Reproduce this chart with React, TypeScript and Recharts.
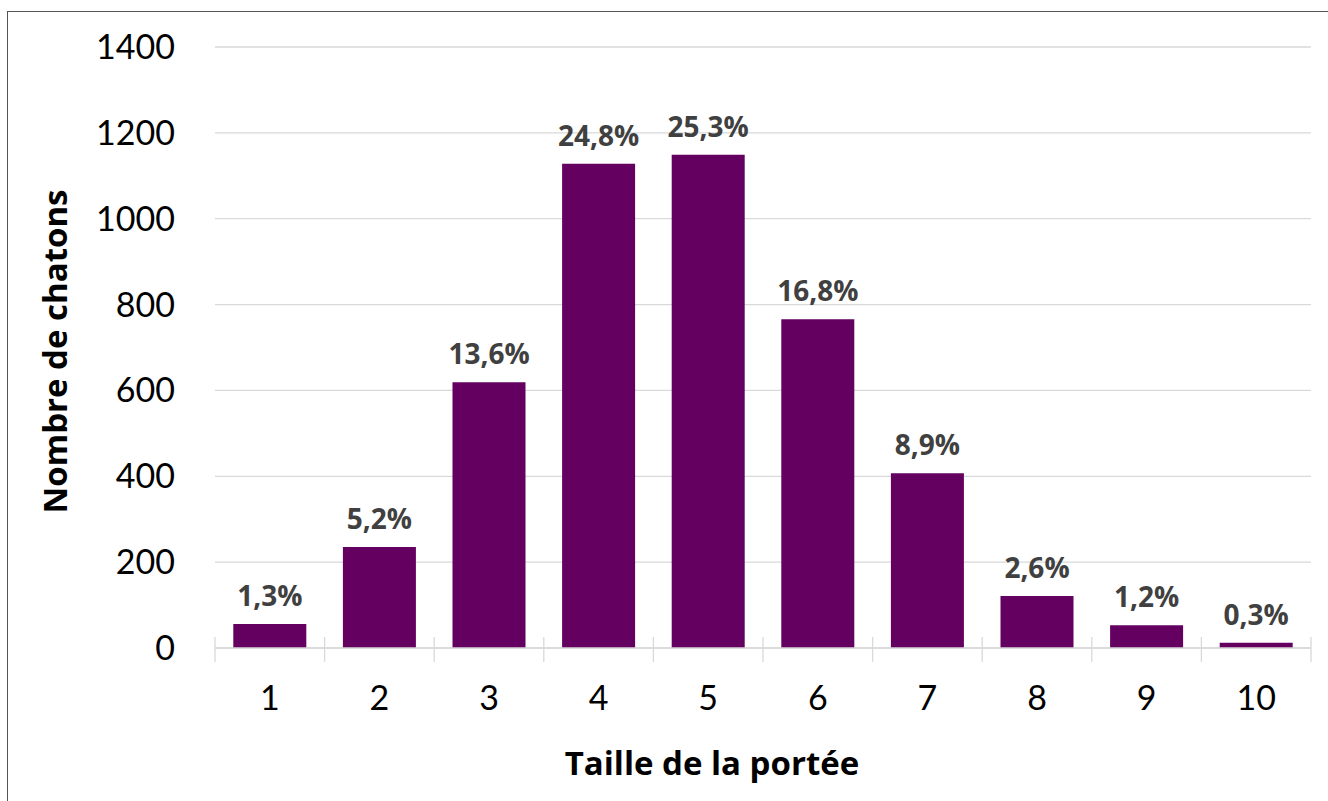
import React from "react";
import { BarChart, Bar, XAxis, YAxis, CartesianGrid, LabelList, Label } from "recharts";

const categories = ["1", "2", "3", "4", "5", "6", "7", "8", "9", "10"];
const kittens = [56, 235, 619, 1128, 1149, 766, 407, 121, 53, 12];
const shares = ["1,3%", "5,2%", "13,6%", "24,8%", "25,3%", "16,8%", "8,9%", "2,6%", "1,2%", "0,3%"];
const yTicks = [0, 200, 400, 600, 800, 1000, 1200, 1400];

const data = categories.map((c, i) => ({ name: c, value: kittens[i], label: shares[i] }));

const FONT = "Lato, 'Open Sans', sans-serif";
const BOLD_FONT = "'Open Sans', Lato, sans-serif";
const TICK_MARGIN = 38;

const XTick = (props: any) => {
  const { x, y, payload, index } = props;
  const axisY = y - TICK_MARGIN;
  const off = payload && payload.offset ? payload.offset : 54.8;
  return (
    <g>
      <line x1={x - off} x2={x - off} y1={axisY - 11} y2={axisY + 14} stroke="#d9d9d9" strokeWidth={1.3} />
      {index === categories.length - 1 && (
        <line x1={x + off} x2={x + off} y1={axisY - 11} y2={axisY + 14} stroke="#d9d9d9" strokeWidth={1.3} />
      )}
      <text x={x} y={y} dy="0.71em" textAnchor="middle" fill="#000" fontSize={34} fontFamily={FONT}>
        {payload.value}
      </text>
    </g>
  );
};

export default function App() {
  return (
    <div style={{ position: "absolute", left: 0, top: 0, width: 1328, height: 801, overflow: "hidden", background: "#fff" }}>
      <div
        style={{
          position: "absolute",
          left: 7,
          top: 11,
          width: 1400,
          height: 900,
          borderLeft: "1.5px solid #555",
          borderTop: "1.5px solid #555",
        }}
      />
      <div style={{ position: "absolute", left: 0, top: 0 }}>
        <BarChart
          width={1328}
          height={801}
          data={data}
          margin={{ top: 47, right: 17, bottom: 13, left: 0 }}
          barCategoryGap="16.7%"
        >
          <CartesianGrid vertical={false} stroke="#d9d9d9" strokeWidth={1.3} />
          <XAxis
            dataKey="name"
            height={140}
            axisLine={{ stroke: "#d9d9d9", strokeWidth: 1.3 }}
            tickLine={false}
            tickSize={0}
            tickMargin={TICK_MARGIN}
            tick={<XTick />}
            interval={0}
          >
            <Label
              value="Taille de la portée"
              position="insideBottom"
              offset={13}
              dx={-51}
              style={{ fontSize: 33, fontWeight: 700, fill: "#000", fontFamily: BOLD_FONT }}
            />
          </XAxis>
          <YAxis
            width={215}
            domain={[0, 1400]}
            ticks={yTicks}
            interval={0}
            axisLine={false}
            tickLine={false}
            tickSize={0}
            tickMargin={40}
            tick={{ fontSize: 34, fill: "#000", fontFamily: FONT }}
          >
            <Label
              value="Nombre de chatons"
              angle={-90}
              position="insideLeft"
              offset={55}
              dy={4}
              style={{ textAnchor: "middle", fontSize: 33, fontWeight: 700, fill: "#000", fontFamily: BOLD_FONT }}
            />
          </YAxis>
          <Bar dataKey="value" fill="#630060" isAnimationActive={false}>
            <LabelList
              dataKey="label"
              position="top"
              offset={18}
              style={{ fontSize: 28, fontWeight: 700, fill: "#404040", fontFamily: BOLD_FONT }}
            />
          </Bar>
        </BarChart>
      </div>
    </div>
  );
}
